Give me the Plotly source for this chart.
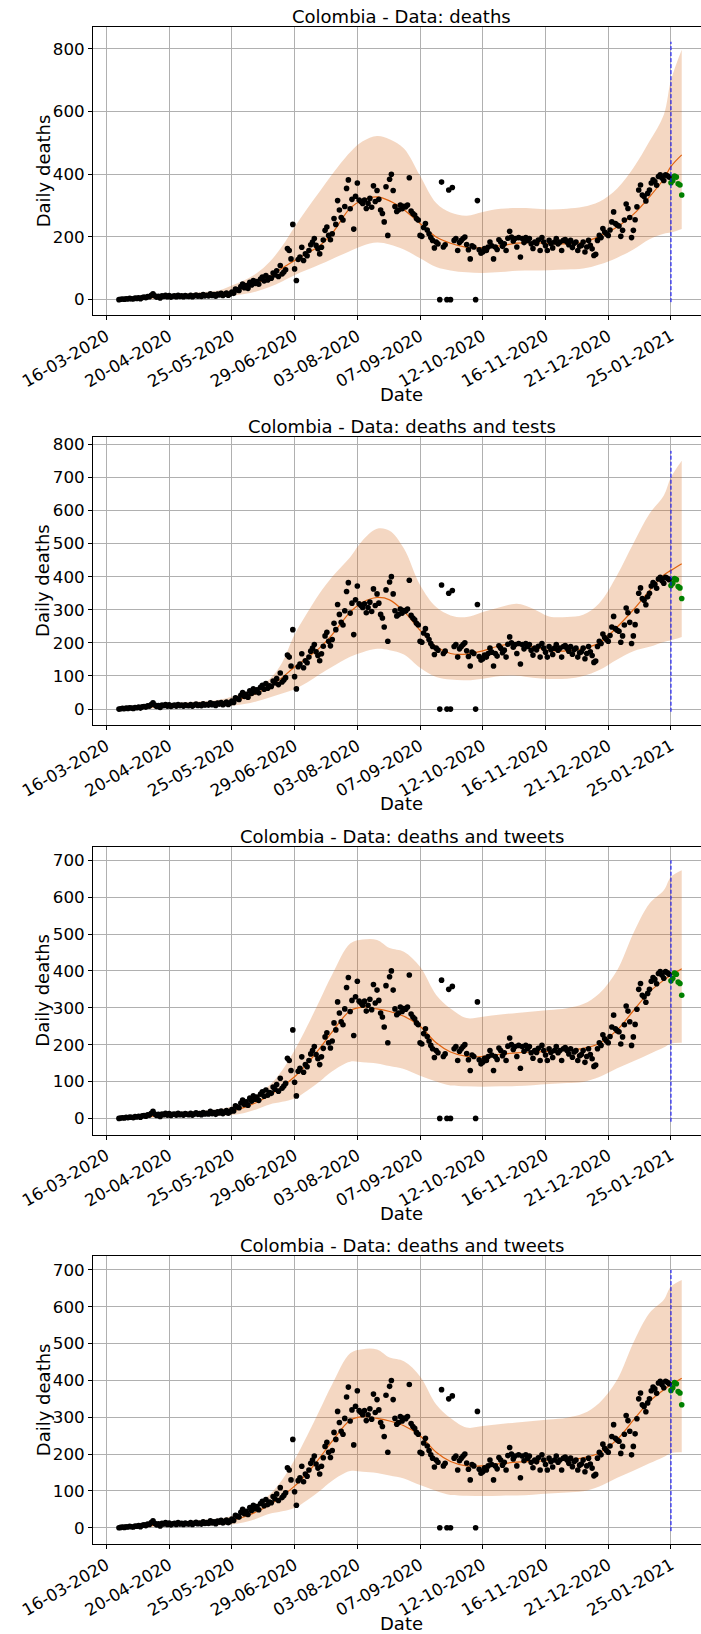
import pandas as pd
import plotly.graph_objects as go

# ---------------- data ----------------
DATA_START = "2020-03-23"
daily_deaths = [
    0, 1, 2, 1, 3, 2, 4,
    3, 2, 5, 4, 6, 3, 7,
    8, 6, 10, 9, 14, 19, 12,
    8, 11, 5, 12, 10, 14, 9,
    13, 8, 11, 12, 9, 14, 10,
    12, 9, 13, 11, 10, 14, 9,
    12, 15, 11, 13, 10, 16, 12,
    14, 12, 19, 13, 16, 11, 18,
    15, 20, 13, 17, 21, 14, 18,
    24, 20, 34, 31, 29, 42, 50,
    38, 45, 36, 55, 47, 61, 52,
    58, 49, 66, 72, 60, 77, 63,
    70, 68, 85, 79, 92, 74, 109,
    82, 88, 95, 163, 157, 130, 240,
    98, 61, 128, 136, 167, 125, 146,
    140, 157, 175, 184, 195, 173, 162,
    146, 167, 190, 221, 232, 205, 191,
    210, 259, 240, 316, 286, 262, 254,
    297, 355, 382, 290, 320, 225, 330,
    372, 318, 313, 307, 318, 291, 307,
    323, 295, 363, 313, 348, 320, 286,
    275, 248, 360, 205, 384, 400, 348,
    297, 281, 286, 302, 290, 298, 296,
    302, 389, 283, 275, 270, 259, 254,
    205, 202, 230, 243, 222, 210, 198,
    189, 165, 184, 178, 0, 375, 168,
    175, 0, 350, 0, 358, 189, 195,
    157, 182, 189, 195, 200, 176, 159,
    130, 172, 168, 0, 316, 159, 148,
    152, 163, 157, 168, 184, 172, 130,
    168, 160, 191, 184, 170, 178, 157,
    196, 218, 200, 187, 195, 168, 198,
    136, 195, 182, 198, 189, 195, 178,
    163, 184, 179, 190, 157, 198, 184,
    172, 157, 189, 179, 165, 184, 195,
    178, 184, 157, 189, 192, 184, 175,
    189, 166, 180, 184, 157, 170, 173,
    184, 152, 168, 189, 173, 162, 141,
    145, 189, 205, 198, 227, 216, 210,
    205, 222, 248, 280, 243, 238, 235,
    202, 221, 254, 305, 291, 262, 198,
    221, 255, 296, 350, 366, 334, 329,
    315, 339, 350, 372, 382, 377, 365,
    393, 398, 388, 380, 398, 395, 391,
]
TEST_START = "2021-01-25"
test_deaths = [373, 380, 394, 391, 370, 366, 334]

knot_dates = [
    "2020-03-23", "2020-04-06", "2020-04-20", "2020-05-04", "2020-05-18",
    "2020-05-25", "2020-06-01", "2020-06-08", "2020-06-15", "2020-06-22",
    "2020-06-29", "2020-07-06", "2020-07-13", "2020-07-20", "2020-07-30",
    "2020-08-06", "2020-08-14", "2020-08-21", "2020-08-29", "2020-09-07",
    "2020-09-16", "2020-09-24", "2020-10-03", "2020-10-12", "2020-10-22",
    "2020-10-31", "2020-11-09", "2020-11-18", "2020-11-28", "2020-12-07",
    "2020-12-16", "2020-12-26", "2021-01-04", "2021-01-13", "2021-01-21",
    "2021-01-25", "2021-01-31",
]

# panel 1 : deaths
median_1 = [1, 5, 10, 12, 17, 25, 37, 52, 72, 100, 125, 148, 172, 212, 292,
            318, 328, 315, 287, 243, 200, 180, 167, 166, 172, 180, 182, 179,
            178, 184, 202, 232, 272, 328, 385, 425, 462]
upper_1 = [3, 10, 18, 22, 30, 45, 62, 85, 120, 170, 232, 290, 345, 400, 470,
           505, 522, 512, 482, 395, 308, 278, 268, 280, 290, 292, 291, 288,
           290, 296, 312, 355, 420, 505, 590, 700, 797]
lower_1 = [0, 1, 4, 6, 9, 12, 18, 27, 40, 58, 78, 95, 112, 130, 155,
           172, 182, 176, 160, 132, 104, 93, 87, 85, 88, 92, 93, 94,
           96, 99, 112, 134, 160, 193, 210, 214, 225]

# panel 2 : deaths and tests
median_2 = [1, 5, 10, 12, 17, 24, 34, 48, 68, 95, 127, 155, 185, 225, 293,
            323, 337, 330, 295, 238, 188, 168, 166, 176, 192, 198, 188, 177,
            176, 183, 200, 248, 300, 358, 405, 419, 439]
upper_2 = [3, 10, 17, 22, 28, 37, 50, 66, 90, 140, 225, 290, 350, 400, 459,
           510, 545, 539, 485, 375, 308, 283, 278, 293, 308, 318, 303, 280,
           278, 285, 320, 405, 500, 590, 645, 700, 750]
lower_2 = [0, 1, 4, 6, 8, 10, 15, 24, 35, 47, 60, 80, 105, 128, 158,
           172, 182, 178, 165, 125, 97, 89, 87, 92, 100, 101, 95, 91,
           92, 100, 118, 150, 175, 188, 203, 208, 218]

# panels 3 and 4 : deaths and tweets
median_3 = [1, 5, 9, 11, 15, 20, 30, 44, 62, 86, 113, 148, 190, 235, 292,
            302, 297, 290, 277, 250, 205, 180, 168, 168, 174, 178, 180, 182,
            185, 190, 203, 240, 292, 343, 375, 388, 406]
upper_3 = [3, 10, 16, 20, 25, 32, 45, 65, 90, 130, 185, 250, 320, 390, 474,
           485, 484, 462, 452, 411, 335, 298, 272, 276, 282, 286, 290, 294,
           299, 310, 339, 402, 502, 583, 619, 655, 673]
lower_3 = [0, 1, 4, 6, 7, 9, 15, 25, 38, 45, 54, 75, 100, 128, 154,
           152, 149, 142, 134, 116, 100, 89, 87, 86, 87, 88, 90, 93,
           96, 99, 112, 136, 155, 175, 192, 203, 205]

panel_titles = ["Colombia - Data: deaths",
                "Colombia - Data: deaths and tests",
                "Colombia - Data: deaths and tweets",
                "Colombia - Data: deaths and tweets"]
panel_bands = [(median_1, upper_1, lower_1),
               (median_2, upper_2, lower_2),
               (median_3, upper_3, lower_3),
               (median_3, upper_3, lower_3)]
forecast_date = "2021-01-25"
vline_extent = [(-8, 823), (-8, 780), (-9, 700), (-9, 700)]
y_ranges = [(-50, 869), (-48, 822), (-44, 737), (-44, 737)]
y_dticks = [200, 100, 100, 100]
x_label = "Date"
y_label = "Daily deaths"

TICK0 = "2020-03-16"
X_RANGE = ["2020-03-08 12:30", "2021-02-10 18:00"]

# ---------------- figure ----------------
W, H = 701, 1634
M_L, M_R, M_T, M_B = 93, 0, 27, 90
paper_w = W - M_L - M_R
paper_h = H - M_T - M_B
panel_top0, panel_step, panel_h = 27.3, 409.67, 288.0
title_cx = 401.5      # pixel centre of titles / x labels
ylab_cx = 43.0        # pixel centre of y labels

dates = pd.date_range(DATA_START, periods=len(daily_deaths), freq="D")
test_dates = pd.date_range(TEST_START, periods=len(test_deaths), freq="D")

FONT = "DejaVu Sans"
BAND = "rgba(215,110,35,0.28)"
MEDIAN = "#e0620f"
GRID = "#b0b0b0"

fig = go.Figure()
layout = dict(
    width=W, height=H,
    margin=dict(l=M_L, r=M_R, t=M_T, b=M_B, pad=0),
    paper_bgcolor="white", plot_bgcolor="white",
    showlegend=False,
    font=dict(family=FONT, size=16.7, color="black"),
    annotations=[],
)

for k in range(4):
    xa = "x" if k == 0 else f"x{k+1}"
    ya = "y" if k == 0 else f"y{k+1}"
    med, up, lo = panel_bands[k]

    fig.add_trace(go.Scatter(x=knot_dates, y=lo, mode="lines",
                             line=dict(width=0, shape="spline", color=BAND),
                             xaxis=xa, yaxis=ya, hoverinfo="skip"))
    fig.add_trace(go.Scatter(x=knot_dates, y=up, mode="lines",
                             line=dict(width=0, shape="spline", color=BAND),
                             fill="tonexty", fillcolor=BAND,
                             xaxis=xa, yaxis=ya, hoverinfo="skip"))
    fig.add_trace(go.Scatter(x=knot_dates, y=med, mode="lines",
                             line=dict(width=1.2, shape="spline", color=MEDIAN),
                             xaxis=xa, yaxis=ya))
    fig.add_trace(go.Scatter(x=dates, y=daily_deaths, mode="markers",
                             marker=dict(size=5.6, color="black"),
                             xaxis=xa, yaxis=ya))
    fig.add_trace(go.Scatter(x=test_dates, y=test_deaths, mode="markers",
                             marker=dict(size=5.6, color="green"),
                             xaxis=xa, yaxis=ya))
    fig.add_trace(go.Scatter(x=[forecast_date, forecast_date], y=list(vline_extent[k]),
                             mode="lines", line=dict(color="blue", width=1, dash="4px,2px"),
                             xaxis=xa, yaxis=ya))

    top_px = panel_top0 + panel_step * k
    bot_px = top_px + panel_h
    y1 = min(1.0, max(0.0, (H - M_B - top_px) / paper_h))
    y0 = min(1.0, max(0.0, (H - M_B - bot_px) / paper_h))

    xkey = "xaxis" if k == 0 else f"xaxis{k+1}"
    ykey = "yaxis" if k == 0 else f"yaxis{k+1}"
    layout[xkey] = dict(
        domain=[0, 1], anchor=ya, type="date", range=X_RANGE,
        tick0=TICK0, dtick=35 * 86400000, tickformat="%d-%m-%Y",
        tickangle=-30, tickfont=dict(size=16.7, family=FONT),
        showgrid=True, gridcolor=GRID, gridwidth=1,
        ticks="outside", ticklen=4, tickcolor="black", tickwidth=1,
        showline=True, linecolor="black", linewidth=1, mirror=True,
        zeroline=False,
    )
    layout[ykey] = dict(
        domain=[y0, y1], anchor=xa, range=list(y_ranges[k]),
        tick0=0, dtick=y_dticks[k], tickfont=dict(size=16.7, family=FONT),
        showgrid=True, gridcolor=GRID, gridwidth=1,
        ticks="outside", ticklen=4, tickcolor="black", tickwidth=1,
        showline=True, linecolor="black", linewidth=1, mirror=False,
        zeroline=False,
    )
    tx = (title_cx - M_L) / paper_w
    layout["annotations"].append(dict(
        text=panel_titles[k], xref="paper", yref="paper",
        x=tx, y=y1, xanchor="center", yanchor="middle",
        yshift=10.5, showarrow=False, font=dict(size=18, family=FONT, color="black"),
    ))
    layout["annotations"].append(dict(
        text=x_label, xref="paper", yref="paper",
        x=tx, y=y0, xanchor="center", yanchor="middle",
        yshift=-79, showarrow=False, font=dict(size=18, family=FONT, color="black"),
    ))
    layout["annotations"].append(dict(
        text=y_label, xref="paper", yref="paper", textangle=-90,
        x=(ylab_cx - M_L) / paper_w, y=(y0 + y1) / 2, xanchor="center", yanchor="middle",
        showarrow=False, font=dict(size=18, family=FONT, color="black"),
    ))

fig.update_layout(**layout)
fig.write_html("out.html")
